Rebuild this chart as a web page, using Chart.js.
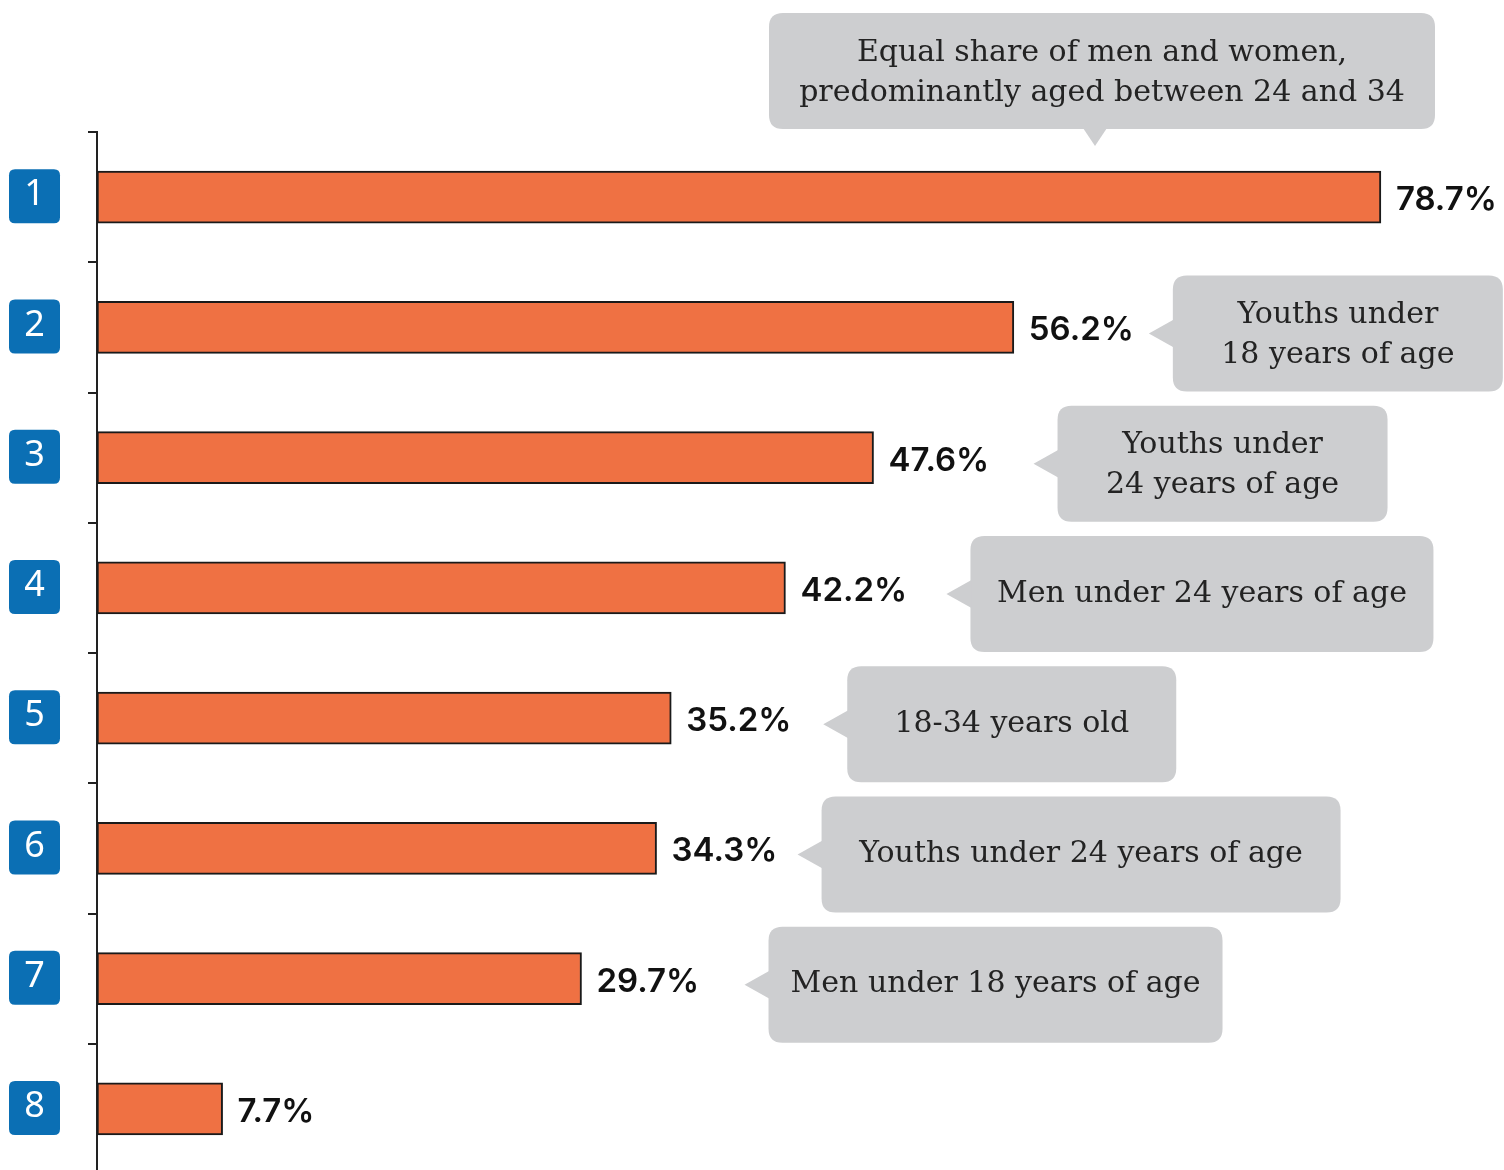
<!DOCTYPE html>
<html>
<head>
<meta charset="utf-8">
<title>Profiles by group</title>
<script src="https://cdn.jsdelivr.net/npm/chart.js@4.4.1/dist/chart.umd.min.js"></script>
<style>
  html, body { margin: 0; padding: 0; background: #fff; overflow: hidden; }
  canvas { display: block; }
</style>
</head>
<body>
<canvas id="shareChart" width="1504" height="1174"></canvas>
<script>
// ranked groups and their share (%)
const categories = ['1', '2', '3', '4', '5', '6', '7', '8'];
const shares = [78.7, 56.2, 47.6, 42.2, 35.2, 34.3, 29.7, 7.7];
const notes = [
    ['Equal share of men and women,', 'predominantly aged between 24 and 34'],
    ['Youths under', '18 years of age'],
    ['Youths under', '24 years of age'],
    ['Men under 24 years of age'],
    ['18-34 years old'],
    ['Youths under 24 years of age'],
    ['Men under 18 years of age'],
    null
];

// callout placement: first one sits above its bar, the rest to the right
const noteBoxes = [
    { above: true, left: 769, top: 13, width: 666, pointerX: 1095 },
    { gap: 135, width: 330 },
    { gap: 160, width: 330 },
    { gap: 161, width: 463 },
    { gap: 152, width: 329 },
    { gap: 141, width: 519 },
    { gap: 163, width: 454 },
    null
];

const BAR = '#ef7143';
const BADGE = '#0b6fb4';
const BUBBLE = '#cdced0';

function roundRect(ctx, x, y, w, h, r) {
    ctx.beginPath();
    ctx.moveTo(x + r, y);
    ctx.lineTo(x + w - r, y);
    ctx.quadraticCurveTo(x + w, y, x + w, y + r);
    ctx.lineTo(x + w, y + h - r);
    ctx.quadraticCurveTo(x + w, y + h, x + w - r, y + h);
    ctx.lineTo(x + r, y + h);
    ctx.quadraticCurveTo(x, y + h, x, y + h - r);
    ctx.lineTo(x, y + r);
    ctx.quadraticCurveTo(x, y, x + r, y);
    ctx.closePath();
}

// blue numbered badges, value labels and grey speech bubbles
const decorations = {
    id: 'decorations',
    afterDatasetsDraw(chart) {
        const ctx = chart.ctx;
        const bars = chart.getDatasetMeta(0).data;
        ctx.save();
        bars.forEach((bar, i) => {
            const cy = bar.y;

            // badge with rank number
            ctx.fillStyle = BADGE;
            roundRect(ctx, 9, cy - 28, 51, 54, 6);
            ctx.fill();
            ctx.fillStyle = '#fff';
            ctx.font = '36px "Noto Sans"';
            ctx.textAlign = 'center';
            ctx.textBaseline = 'middle';
            ctx.fillText(categories[i], 34.5, cy - 2);

            // value label
            ctx.fillStyle = '#111';
            ctx.font = '600 33px Inter';
            ctx.textAlign = 'left';
            ctx.fillText(shares[i].toFixed(1) + '%', bar.x + 15, cy + 3);

            const box = noteBoxes[i];
            if (!box) return;
            let left, top, w = box.width, h = 116;
            ctx.fillStyle = BUBBLE;
            if (box.above) {
                left = box.left; top = box.top;
                roundRect(ctx, left, top, w, h, 14);
                ctx.fill();
                ctx.beginPath();
                ctx.moveTo(box.pointerX - 12, top + h - 1);
                ctx.lineTo(box.pointerX + 12, top + h - 1);
                ctx.lineTo(box.pointerX, top + h + 17);
                ctx.closePath();
                ctx.fill();
            } else {
                const tipX = bar.x + box.gap;
                const my = cy + 6;
                left = tipX + 24; top = my - h / 2;
                roundRect(ctx, left, top, w, h, 14);
                ctx.fill();
                ctx.beginPath();
                ctx.moveTo(left + 1, my - 14);
                ctx.lineTo(left + 1, my + 14);
                ctx.lineTo(tipX, my);
                ctx.closePath();
                ctx.fill();
            }

            // bubble text
            const lines = notes[i];
            ctx.fillStyle = '#232323';
            ctx.font = '30px "DejaVu Serif"';
            ctx.textAlign = 'center';
            const lh = 40;
            const midY = top + h / 2 + (lines.length > 1 ? 2 : 0);
            lines.forEach((t, k) => {
                ctx.fillText(t, left + w / 2, midY + (k - (lines.length - 1) / 2) * lh);
            });
        });
        ctx.restore();
    }
};

const ctx = document.getElementById('shareChart').getContext('2d');
new Chart(ctx, {
    type: 'bar',
    data: {
        labels: categories,
        datasets: [{
            data: shares,
            backgroundColor: BAR,
            borderColor: '#1a1a1a',
            borderWidth: 2,
            borderSkipped: false,
            barThickness: 52
        }]
    },
    options: {
        indexAxis: 'y',
        responsive: false,
        animation: false,
        layout: { padding: { top: 132, right: 4, bottom: 0, left: 0 } },
        plugins: {
            legend: { display: false },
            tooltip: { enabled: false }
        },
        scales: {
            x: {
                display: false,
                min: 0,
                max: 86
            },
            y: {
                offset: true,
                afterFit(scale) { scale.width = 97; },
                grid: {
                    offset: true,
                    drawOnChartArea: false,
                    drawTicks: true,
                    tickLength: 9,
                    color: '#222',
                    lineWidth: 2
                },
                border: { display: true, color: '#222', width: 2 },
                ticks: { display: false }
            }
        }
    },
    plugins: [decorations]
});
</script>
</body>
</html>
